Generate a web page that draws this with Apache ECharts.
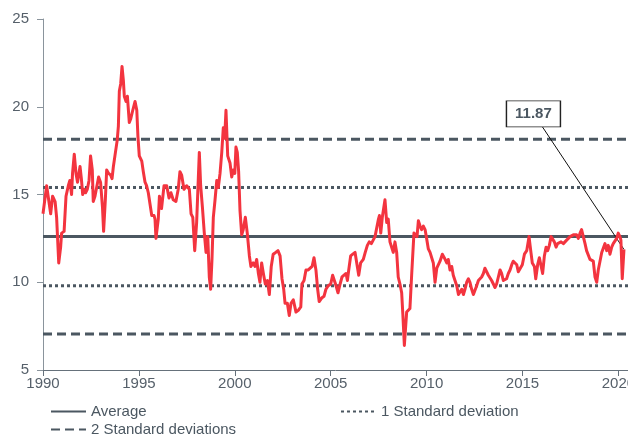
<!DOCTYPE html>
<html>
<head>
<meta charset="utf-8">
<script src="https://cdn.jsdelivr.net/npm/echarts@6/dist/echarts.min.js"></script>
<style>
  html, body { margin: 0; padding: 0; background: #fff; }
  #chart { width: 628px; height: 436px; }
</style>
</head>
<body>
<div id="chart"></div>
<script>
(function() {
    'use strict';

    // decimal years
    var years = [
        1990.00, 1990.19, 1990.25, 1990.40, 1990.50, 1990.63, 1990.71, 1990.82, 1990.92, 1990.97,
        1991.10, 1991.20, 1991.32, 1991.40, 1991.49, 1991.54, 1991.63, 1991.72, 1991.80, 1991.93,
        1992.00, 1992.07, 1992.15, 1992.22, 1992.31, 1992.40, 1992.48, 1992.57, 1992.62, 1992.71,
        1992.80, 1992.90, 1993.00, 1993.10, 1993.16, 1993.25, 1993.32, 1993.42, 1993.53, 1993.60,
        1993.67, 1993.75, 1993.87, 1993.93, 1993.98, 1994.05, 1994.12, 1994.19, 1994.24, 1994.33,
        1994.40, 1994.50, 1994.57, 1994.68, 1994.80, 1994.89, 1994.95, 1995.02, 1995.15, 1995.23,
        1995.32, 1995.40, 1995.49, 1995.58, 1995.67, 1995.79, 1995.84, 1995.89, 1996.01, 1996.07,
        1996.18, 1996.31, 1996.45, 1996.57, 1996.67, 1996.79, 1996.93, 1997.05, 1997.14, 1997.23,
        1997.35, 1997.49, 1997.63, 1997.72, 1997.81, 1997.91, 1998.01, 1998.10, 1998.15, 1998.22,
        1998.31, 1998.41, 1998.50, 1998.59, 1998.67, 1998.74, 1998.81, 1998.88, 1998.97, 1999.06,
        1999.14, 1999.23, 1999.32, 1999.40, 1999.47, 1999.54, 1999.63, 1999.75, 1999.84, 1999.92,
        2000.00, 2000.06, 2000.13, 2000.20, 2000.27, 2000.36, 2000.44, 2000.55, 2000.65, 2000.76,
        2000.84, 2000.96, 2001.05, 2001.14, 2001.23, 2001.31, 2001.40, 2001.49, 2001.59, 2001.70,
        2001.80, 2001.90, 2002.00, 2002.13, 2002.25, 2002.36, 2002.46, 2002.55, 2002.62, 2002.74,
        2002.84, 2002.93, 2003.05, 2003.19, 2003.31, 2003.44, 2003.50, 2003.61, 2003.71, 2003.83,
        2003.92, 2004.03, 2004.13, 2004.23, 2004.32, 2004.40, 2004.53, 2004.65, 2004.75, 2004.87,
        2005.00, 2005.10, 2005.19, 2005.28, 2005.38, 2005.49, 2005.59, 2005.69, 2005.80, 2005.87,
        2005.94, 2006.04, 2006.15, 2006.27, 2006.36, 2006.46, 2006.56, 2006.70, 2006.80, 2006.91,
        2007.01, 2007.12, 2007.22, 2007.31, 2007.40, 2007.49, 2007.54, 2007.61, 2007.69, 2007.78,
        2007.83, 2007.92, 2008.00, 2008.09, 2008.18, 2008.26, 2008.35, 2008.44, 2008.52, 2008.61,
        2008.70, 2008.76, 2008.84, 2008.96, 2009.13, 2009.22, 2009.34, 2009.43, 2009.50, 2009.57,
        2009.66, 2009.74, 2009.83, 2009.92, 2010.00, 2010.09, 2010.18, 2010.27, 2010.35, 2010.44,
        2010.53, 2010.61, 2010.70, 2010.82, 2010.92, 2011.05, 2011.13, 2011.22, 2011.31, 2011.39,
        2011.48, 2011.57, 2011.66, 2011.74, 2011.83, 2011.92, 2012.00, 2012.09, 2012.18, 2012.26,
        2012.35, 2012.44, 2012.52, 2012.61, 2012.70, 2012.78, 2012.87, 2012.96, 2013.04, 2013.13,
        2013.22, 2013.30, 2013.39, 2013.48, 2013.57, 2013.65, 2013.74, 2013.83, 2013.91, 2014.00,
        2014.09, 2014.17, 2014.26, 2014.35, 2014.44, 2014.52, 2014.61, 2014.70, 2014.78, 2014.87,
        2014.99, 2015.10, 2015.22, 2015.34, 2015.44, 2015.51, 2015.62, 2015.69, 2015.79, 2015.88,
        2015.96, 2016.05, 2016.14, 2016.23, 2016.31, 2016.40, 2016.49, 2016.57, 2016.66, 2016.75,
        2016.83, 2016.92, 2017.01, 2017.13, 2017.21, 2017.30, 2017.39, 2017.48, 2017.56, 2017.65,
        2017.74, 2017.82, 2017.91, 2018.00, 2018.08, 2018.17, 2018.26, 2018.34, 2018.43, 2018.52,
        2018.61, 2018.69, 2018.78, 2018.87, 2018.95, 2019.04, 2019.13, 2019.21, 2019.30, 2019.39,
        2019.47, 2019.56, 2019.65, 2019.73, 2019.82, 2019.91, 2019.99, 2020.08, 2020.13, 2020.20,
        2020.29
    ];

    var values = [
        13.9, 15.5, 15.4, 13.9, 14.9, 14.6, 13.7, 11.1, 12.0, 12.8,
        12.9, 14.9, 15.5, 15.8, 15.0, 16.2, 17.3, 16.2, 15.7, 16.6,
        15.9, 15.0, 15.3, 15.1, 15.3, 15.8, 17.2, 16.4, 14.6, 14.9,
        14.9, 16.0, 15.7, 14.3, 12.9, 14.7, 16.4, 16.2, 16.1, 15.9,
        16.6, 17.2, 18.1, 18.9, 20.9, 21.3, 22.3, 21.5, 20.6, 20.3,
        20.6, 19.1, 19.3, 19.8, 20.3, 19.8, 18.3, 17.2, 16.9, 16.3,
        15.7, 15.5, 15.1, 15.0, 13.8, 13.8, 13.6, 12.5, 13.6, 14.9,
        14.2, 15.5, 15.5, 14.8, 15.1, 14.7, 14.6, 15.3, 16.3, 16.1,
        15.3, 15.5, 15.3, 13.9, 13.7, 11.8, 13.4, 16.0, 17.4, 15.5,
        14.3, 12.8, 11.7, 12.6, 10.3, 9.6, 11.3, 13.7, 14.7, 15.8,
        15.4, 16.2, 17.4, 18.8, 18.2, 19.8, 17.2, 16.8, 16.0, 16.4,
        16.2, 17.7, 17.4, 16.3, 14.1, 12.7, 13.0, 13.7, 12.8, 11.5,
        10.9, 11.1, 10.9, 11.3, 10.5, 10.0, 11.1, 10.5, 9.9, 10.1,
        9.3, 10.9, 11.6, 11.7, 11.8, 11.5, 10.2, 9.6, 8.8, 8.8,
        8.1, 8.8, 9.0, 8.3, 8.4, 8.6, 9.9, 10.1, 10.7, 10.7,
        10.6, 10.9, 11.4, 10.7, 9.6, 8.9, 9.1, 9.2, 9.6, 9.8,
        9.9, 10.4, 10.1, 9.8, 9.4, 9.9, 10.3, 10.4, 10.5, 10.1,
        10.7, 11.5, 11.6, 11.7, 11.8, 10.4, 11.1, 11.3, 11.7, 12.1,
        12.3, 12.2, 12.3, 12.6, 12.5, 13.6, 13.8, 12.8, 13.7, 13.8,
        14.7, 13.4, 13.6, 12.3, 12.2, 11.7, 12.3, 11.7, 10.3, 9.9,
        9.4, 8.2, 6.4, 8.3, 8.5, 10.4, 12.8, 12.9, 12.6, 13.5,
        13.2, 13.0, 13.2, 13.0, 12.5, 11.9, 11.7, 11.8, 11.1, 10.0,
        10.8, 10.7, 11.2, 11.6, 11.4, 11.1, 11.3, 10.7, 10.9, 10.4,
        10.1, 9.8, 9.3, 9.2, 9.6, 9.3, 9.6, 10.0, 10.2, 10.0,
        9.6, 9.3, 9.3, 9.8, 10.1, 10.1, 10.3, 10.5, 10.8, 10.6,
        10.4, 10.5, 10.1, 9.9, 9.7, 9.9, 10.3, 10.7, 10.5, 10.1,
        10.0, 10.2, 10.5, 10.7, 11.0, 11.2, 11.3, 11.0, 10.6, 10.6,
        11.0, 11.6, 11.8, 12.6, 11.7, 11.1, 10.9, 10.2, 11.0, 11.4,
        11.3, 10.5, 11.5, 12.0, 11.8, 12.1, 12.6, 12.5, 12.3, 12.0,
        12.2, 12.2, 12.3, 12.2, 12.3, 12.4, 12.4, 12.6, 12.5, 12.7,
        12.6, 12.7, 12.5, 12.8, 13.0, 12.6, 12.2, 11.8, 11.7, 11.3,
        11.4, 11.2, 10.3, 10.0, 10.7, 11.2, 11.7, 11.7, 12.2, 11.8,
        12.1, 11.6, 12.0, 12.2, 12.2, 12.5, 12.8, 12.6, 12.4, 10.2,
        11.87
    ];

    var average = 12.6;
    var oneStdDev = [15.4, 9.8];
    var twoStdDev = [18.15, 7.05];

    var xTicks = [1990, 1995, 2000, 2005, 2010, 2015, 2020];
    var xMin = 1990, xMax = 2020.5;
    var yMin = 5, yMax = 25;

    // where the call-out box sits, in data units
    var calloutBox = [2015.57, 19.59];
    var calloutLeaderStart = [2016.04, 18.85];

    var RED = '#f3343f';
    var SLATE = '#4b5761';
    var TEXT = '#56606a';
    var FONT = 'Liberation Sans, Arial, sans-serif';

    var lineData = years.map(function(y, i) { return [y, values[i]]; });
    var lastPoint = lineData[lineData.length - 1];

    function flat(v) {
        return [[xMin, v], [xMax, v]];
    }

    function refSeries(name, v, type) {
        return {
            name : name,
            type : 'line',
            data : flat(v),
            symbol : 'none',
            silent : true,
            z : 2,
            lineStyle : { color : SLATE, width : 3, type : type },
            itemStyle : { color : SLATE }
        };
    }

    var legendText = { color : SLATE, fontSize : 15, fontFamily : FONT };
    function legendAt(name, left, top) {
        return {
            data : [name],
            left : left,
            top : top,
            padding : 0,
            itemWidth : 35,
            itemHeight : 14,
            itemGap : 7,
            textStyle : legendText,
            // hide the marker dot ECharts puts on line-series legend icons
            itemStyle : { opacity : 0 },
            selectedMode : false
        };
    }

    var chart = echarts.init(document.getElementById('chart'), null, { renderer : 'canvas' });

    chart.setOption({
        animation : false,
        backgroundColor : '#fff',
        textStyle : { fontFamily : FONT },
        grid : {
            left : 43, right : 0, top : 19, bottom : 66,
            containLabel : false,
            outerBoundsMode : 'none'
        },
        legend : [
            legendAt('Average', 50, 404),
            legendAt('1 Standard deviation', 340, 404),
            legendAt('2 Standard deviations', 50, 422)
        ],
        xAxis : {
            type : 'value',
            min : xMin,
            max : xMax,
            interval : 5,
            splitLine : { show : false },
            axisLine : { lineStyle : { color : '#66717b', width : 1 } },
            axisTick : { length : 6, lineStyle : { color : '#66717b' } },
            axisLabel : {
                color : TEXT,
                fontSize : 15,
                margin : 6,
                showMaxLabel : false,
                formatter : function(v) {
                    return xTicks.indexOf(v) >= 0 ? String(v) : '';
                }
            }
        },
        yAxis : {
            type : 'value',
            min : yMin,
            max : yMax,
            interval : 5,
            splitLine : { show : false },
            axisLine : { show : true, lineStyle : { color : '#8a949c', width : 1 } },
            axisTick : { show : true, length : 6, lineStyle : { color : '#8a949c' } },
            axisLabel : { color : TEXT, fontSize : 15, margin : 14 }
        },
        series : [
            refSeries('Average', average, 'solid'),
            refSeries('1 Standard deviation', oneStdDev[0], [3, 3]),
            refSeries('1 Standard deviation', oneStdDev[1], [3, 3]),
            refSeries('2 Standard deviations', twoStdDev[0], [9, 5]),
            refSeries('2 Standard deviations', twoStdDev[1], [9, 5]),
            {
                name : 'Forward P/E',
                type : 'line',
                data : lineData,
                symbol : 'none',
                z : 5,
                lineStyle : { color : RED, width : 3, join : 'round' },
                markLine : {
                    silent : true,
                    symbol : 'none',
                    label : { show : false },
                    lineStyle : { color : '#111', width : 1, type : 'solid' },
                    data : [[{ coord : calloutLeaderStart }, { coord : lastPoint }]]
                },
                markPoint : {
                    silent : true,
                    symbol : 'rect',
                    symbolSize : [54, 26],
                    itemStyle : { color : '#fff', borderColor : '#222', borderWidth : 1 },
                    label : {
                        show : true,
                        position : 'inside',
                        color : SLATE,
                        fontSize : 15,
                        fontWeight : 'bold',
                        formatter : lastPoint[1].toFixed(2)
                    },
                    data : [{ coord : calloutBox }]
                }
            }
        ]
    });
})();
</script>
</body>
</html>
